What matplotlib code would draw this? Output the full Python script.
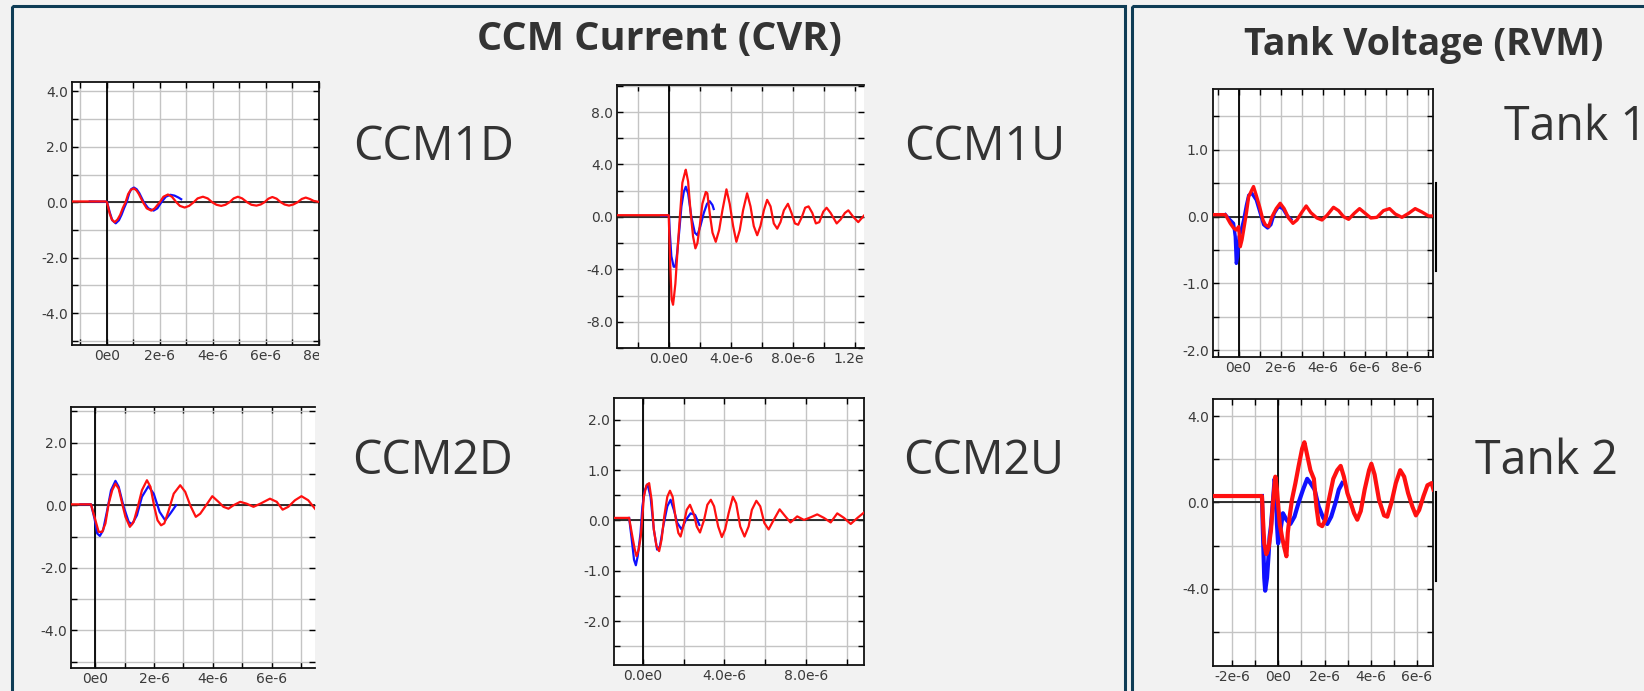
import numpy as np
import matplotlib
matplotlib.use("Agg")
import matplotlib.pyplot as plt
from matplotlib.patches import Rectangle
from matplotlib.transforms import Bbox, TransformedBbox

W, H = 1644, 691

# waveforms: (time in us, amplitude)
ccm1d_red = [(-1.32, 0.03), (-0.05, 0.03), (0.0, 0.0), (0.1, -0.4), (0.18, -0.62), (0.29, -0.72),
             (0.4, -0.62), (0.5, -0.45), (0.6, -0.2), (0.70, 0.0), (0.8, 0.3), (0.9, 0.45), (1.02, 0.50),
             (1.12, 0.42), (1.2, 0.3), (1.36, 0.0), (1.5, -0.22), (1.67, -0.30), (1.8, -0.22), (1.99, 0.0),
             (2.13, 0.2), (2.30, 0.28), (2.45, 0.2), (2.62, 0.0), (2.75, -0.13), (2.93, -0.19), (3.1, -0.13),
             (3.27, 0.0), (3.42, 0.14), (3.62, 0.20), (3.8, 0.14), (3.97, 0.0), (4.13, -0.09), (4.31, -0.13),
             (4.47, -0.09), (4.62, 0.0), (4.78, 0.14), (4.94, 0.20), (5.1, 0.14), (5.29, 0.0), (5.45, -0.09),
             (5.64, -0.12), (5.8, -0.08), (5.94, 0.0), (6.09, 0.13), (6.24, 0.19), (6.4, 0.13), (6.56, 0.0),
             (6.7, -0.08), (6.87, -0.12), (7.03, -0.08), (7.19, 0.0), (7.35, 0.12), (7.5, 0.17), (7.65, 0.12),
             (7.8, 0.05), (7.96, 0.02)]
ccm1d_blue = [(-0.65, 0.03), (0.0, 0.02), (0.1, -0.35), (0.2, -0.65), (0.33, -0.76), (0.45, -0.65),
              (0.55, -0.45), (0.65, -0.2), (0.74, 0.0), (0.84, 0.33), (0.92, 0.48), (1.02, 0.53), (1.12, 0.47),
              (1.22, 0.33), (1.39, 0.0), (1.56, -0.22), (1.76, -0.30), (1.9, -0.22), (2.05, 0.0), (2.22, 0.2),
              (2.39, 0.27), (2.55, 0.24), (2.7, 0.17), (2.8, 0.11)]

ccm1u_red = [(-3.35, 0.13), (-0.02, 0.13), (0.09, -4.0), (0.17, -6.3), (0.26, -6.7), (0.32, -6.1),
             (0.41, -5.1), (0.47, -4.0), (0.58, -2.0), (0.73, 0.5), (0.86, 2.6), (1.01, 3.3), (1.08, 3.6),
             (1.23, 2.7), (1.38, 0.5), (1.55, -1.5), (1.70, -2.4), (1.83, -2.0), (1.98, -0.7), (2.15, 1.0),
             (2.37, 1.9), (2.47, 1.8), (2.62, 0.3), (2.80, -1.2), (3.01, -1.9), (3.23, -1.0), (3.44, 0.5),
             (3.70, 2.1), (3.91, 1.0), (4.13, -0.7), (4.34, -1.9), (4.56, -1.0), (4.77, 0.5), (5.03, 1.8),
             (5.25, 0.8), (5.46, -0.7), (5.68, -1.4), (5.89, -0.7), (6.11, 0.5), (6.32, 1.3), (6.54, 0.8),
             (6.75, -0.5), (6.97, -0.9), (7.18, -0.4), (7.40, 0.5), (7.66, 1.0), (7.89, 0.3), (8.11, -0.5),
             (8.32, -0.6), (8.56, 0.0), (8.77, 0.7), (8.99, 0.8), (9.23, 0.3), (9.46, -0.5), (9.68, -0.4),
             (9.94, 0.4), (10.15, 0.7), (10.41, 0.3), (10.8, -0.5), (11.05, -0.2), (11.33, 0.3), (11.55, 0.5),
             (11.87, 0.0), (12.19, -0.4), (12.41, -0.1), (12.56, 0.1)]
ccm1u_blue = [(-0.5, 0.1), (0.0, 0.1), (0.04, -1.0), (0.15, -3.0), (0.30, -3.8), (0.41, -3.8), (0.52, -2.8),
              (0.65, -1.2), (0.80, 0.8), (0.95, 1.9), (1.08, 2.3), (1.23, 1.8), (1.44, 0.0), (1.66, -1.2),
              (1.83, -1.4), (2.02, -0.7), (2.24, 0.3), (2.45, 1.0), (2.62, 1.2), (2.80, 0.9), (2.88, 0.6)]

ccm2d_red = [(-0.82, 0.03), (-0.14, 0.03), (0.01, -0.48), (0.12, -0.85), (0.24, -0.85), (0.35, -0.58),
             (0.46, 0.05), (0.58, 0.48), (0.69, 0.69), (0.80, 0.53), (0.92, 0.05), (1.03, -0.37), (1.18, -0.69),
             (1.31, -0.53), (1.45, -0.05), (1.59, 0.48), (1.76, 0.8), (1.88, 0.59), (2.01, -0.05), (2.12, -0.48),
             (2.24, -0.64), (2.35, -0.58), (2.50, -0.16), (2.67, 0.37), (2.89, 0.64), (3.06, 0.43), (3.23, 0.0),
             (3.42, -0.37), (3.57, -0.27), (3.77, 0.0), (3.98, 0.29), (4.19, 0.11), (4.36, -0.05), (4.53, -0.11),
             (4.7, 0.0), (4.93, 0.11), (5.15, 0.05), (5.38, -0.05), (5.61, 0.05), (5.94, 0.21), (6.17, 0.11),
             (6.37, -0.14), (6.56, -0.05), (6.79, 0.16), (7.01, 0.29), (7.24, 0.16), (7.47, -0.11)]
ccm2d_blue = [(-0.5, 0.03), (-0.14, 0.03), (-0.02, -0.43), (0.07, -0.9), (0.16, -0.98), (0.27, -0.8),
              (0.41, -0.16), (0.54, 0.48), (0.69, 0.78), (0.80, 0.59), (0.97, -0.05), (1.14, -0.53),
              (1.25, -0.61), (1.42, -0.32), (1.59, 0.27), (1.81, 0.61), (1.99, 0.37), (2.19, -0.21),
              (2.38, -0.48), (2.55, -0.27), (2.75, 0.0)]

ccm2u_red = [(-1.41, 0.05), (-0.67, 0.05), (-0.51, -0.32), (-0.39, -0.58), (-0.31, -0.71), (-0.2, -0.58),
             (-0.1, -0.32), (-0.02, 0.08), (0.05, 0.47), (0.18, 0.70), (0.31, 0.74), (0.43, 0.41), (0.54, -0.18),
             (0.67, -0.51), (0.80, -0.61), (0.92, -0.38), (1.05, 0.08), (1.20, 0.47), (1.33, 0.59), (1.46, 0.47),
             (1.62, 0.01), (1.74, -0.25), (1.85, -0.32), (1.98, -0.12), (2.15, 0.21), (2.31, 0.31), (2.51, 0.11),
             (2.64, -0.12), (2.80, -0.24), (3.0, 0.01), (3.16, 0.31), (3.33, 0.41), (3.49, 0.28), (3.69, -0.12),
             (3.87, -0.33), (4.03, -0.18), (4.20, 0.14), (4.41, 0.47), (4.57, 0.34), (4.77, -0.12), (4.98, -0.32),
             (5.18, -0.12), (5.34, 0.21), (5.56, 0.39), (5.75, 0.28), (5.95, -0.05), (6.16, -0.18), (6.41, 0.01),
             (6.70, 0.22), (6.98, 0.08), (7.23, -0.04), (7.56, 0.08), (7.89, 0.01), (8.21, 0.06), (8.54, 0.12),
             (8.87, 0.05), (9.2, -0.04), (9.52, 0.14), (9.85, 0.05), (10.18, -0.07), (10.51, 0.05), (10.84, 0.16)]
ccm2u_blue = [(-0.67, 0.05), (-0.54, -0.38), (-0.43, -0.78), (-0.34, -0.89), (-0.25, -0.71), (-0.11, -0.25),
              (-0.02, 0.28), (0.10, 0.6), (0.23, 0.72), (0.38, 0.47), (0.54, -0.18), (0.70, -0.58), (0.84, -0.51),
              (1.0, -0.12), (1.20, 0.28), (1.36, 0.41), (1.52, 0.21), (1.69, -0.05), (1.90, -0.18), (2.11, 0.01),
              (2.34, 0.14), (2.56, 0.11), (2.77, -0.09)]

tank1_red = [(-1.22, 0.03), (-0.63, 0.03), (-0.4, -0.1), (-0.24, -0.17), (-0.11, -0.2), (0.0, -0.15),
             (0.08, -0.45), (0.16, -0.35), (0.24, -0.2), (0.37, 0.05), (0.48, 0.3), (0.63, 0.4), (0.71, 0.45),
             (0.84, 0.32), (1.0, 0.15), (1.16, -0.05), (1.27, -0.12), (1.43, -0.15), (1.59, 0.0), (1.79, 0.12),
             (1.98, 0.2), (2.17, 0.12), (2.38, -0.02), (2.59, -0.1), (2.78, -0.05), (3.02, 0.07), (3.22, 0.16),
             (3.44, 0.06), (3.73, -0.02), (3.97, -0.05), (4.21, 0.02), (4.52, 0.14), (4.76, 0.09), (5.0, 0.0),
             (5.24, -0.04), (5.51, 0.05), (5.76, 0.12), (6.03, 0.05), (6.30, -0.02), (6.59, -0.01), (6.9, 0.09),
             (7.19, 0.12), (7.46, 0.04), (7.78, -0.01), (8.10, 0.05), (8.41, 0.12), (8.73, 0.07), (9.05, 0.01),
             (9.21, 0.01)]
tank1_blue = [(-0.63, 0.03), (-0.4, -0.05), (-0.24, -0.1), (-0.16, -0.3), (-0.11, -0.7), (-0.05, -0.6),
              (0.02, -0.3), (0.11, -0.22), (0.24, -0.05), (0.37, 0.17), (0.48, 0.32), (0.63, 0.35), (0.84, 0.25),
              (1.03, 0.05), (1.19, -0.12), (1.38, -0.17), (1.54, -0.12), (1.70, 0.05), (1.90, 0.15), (2.11, 0.12),
              (2.30, 0.02), (2.49, -0.04)]

tank2_red = [(-2.83, 0.3), (-0.71, 0.3), (-0.67, -0.66), (-0.61, -1.9), (-0.52, -2.4), (-0.42, -2.1),
             (-0.32, -1.3), (-0.23, 0.0), (-0.13, 1.2), (-0.06, 0.6), (0.06, -1.0), (0.16, -1.6), (0.26, -2.1),
             (0.35, -2.5), (0.41, -1.4), (0.49, -0.66), (0.59, 0.13), (0.74, 0.9), (0.88, 1.7), (1.03, 2.5),
             (1.13, 2.8), (1.25, 2.2), (1.39, 1.5), (1.54, 1.1), (1.65, -0.2), (1.75, -1.0), (1.90, -1.1),
             (2.04, -0.8), (2.19, 0.13), (2.38, 1.1), (2.55, 1.5), (2.70, 1.7), (2.84, 1.2), (2.99, 0.44),
             (3.13, 0.0), (3.28, -0.5), (3.42, -0.8), (3.57, -0.4), (3.74, 0.6), (3.93, 1.5), (4.03, 1.8),
             (4.17, 1.3), (4.36, 0.13), (4.58, -0.6), (4.72, -0.66), (4.90, 0.0), (5.09, 0.9), (5.28, 1.5),
             (5.45, 1.2), (5.62, 0.44), (5.81, -0.2), (5.96, -0.6), (6.10, -0.35), (6.29, 0.3), (6.46, 0.8),
             (6.64, 0.9), (6.72, 0.6)]
tank2_blue = [(-0.71, 0.3), (-0.67, -1.3), (-0.61, -3.5), (-0.57, -4.1), (-0.49, -3.5), (-0.42, -2.4),
              (-0.38, -1.6), (-0.32, -1.1), (-0.23, 0.13), (-0.16, 1.1), (-0.10, 0.6), (-0.06, -1.0),
              (-0.01, -1.9), (0.09, -1.3), (0.20, -0.5), (0.35, -0.8), (0.52, -1.0), (0.70, -0.66), (0.88, 0.0),
              (1.07, 0.6), (1.25, 1.1), (1.39, 0.9), (1.57, 0.6), (1.75, -0.2), (1.94, -0.7), (2.12, -1.0),
              (2.29, -0.66), (2.48, 0.0), (2.62, 0.6), (2.77, 0.9)]

labels_big = ["CCM1D", "CCM1U", "CCM2D", "CCM2U", "Tank 1", "Tank 2"]
panel_titles = ["CCM Current (CVR)", "Tank Voltage (RVM)"]


def px_axes(fig, left, top, right, bottom):
    return fig.add_axes([left / W, 1 - bottom / H, (right - left) / W, (bottom - top) / H])


def setup(ax, xlim, ylim, xgrid, xlab, ygrid, ylab, right_spine=True):
    ax.set_facecolor("white")
    ax.set_xlim(xlim[0] * 1e-6, xlim[1] * 1e-6)
    ax.set_ylim(*ylim)
    ax.set_xticks([g * 1e-6 for g in xgrid])
    ax.set_xticklabels([xlab.get(g, "") for g in xgrid])
    ax.set_yticks(ygrid)
    ax.set_yticklabels([ylab.get(g, "") for g in ygrid])
    ax.grid(True, color="#c4c4c4", lw=1)
    ax.set_axisbelow(True)
    ax.tick_params(direction="in", length=4, width=1, top=True, right=True,
                   labelsize=10, labelcolor="#3a3a3a", pad=3)
    ax.axhline(0, color="#202020", lw=1.3, zorder=1.5)
    ax.axvline(0, color="#000000", lw=1.3, zorder=1.5)
    for s in ax.spines.values():
        s.set_linewidth(1.3)
        s.set_color("#111111")
    if not right_spine:
        ax.spines["right"].set_visible(False)
    clip = TransformedBbox(Bbox([[-1, -1], [1, 2]]), ax.transAxes)
    for lbl in ax.get_xticklabels():
        lbl.set_clip_box(clip)
        lbl.set_clip_on(True)


def draw(ax, blue, red, lw=1.6):
    bt, bv = zip(*blue)
    rt, rv = zip(*red)
    ax.plot(np.array(bt) * 1e-6, bv, color="#1010ff", lw=lw, zorder=3)
    ax.plot(np.array(rt) * 1e-6, rv, color="#ff1010", lw=lw, zorder=4)


fig = plt.figure(figsize=(W / 100, H / 100), dpi=100)
fig.patch.set_facecolor("#f2f2f2")

bg = fig.add_axes([0, 0, 1, 1])
bg.set_xlim(0, W)
bg.set_ylim(H, 0)
bg.axis("off")
border = "#0f3d56"
bg.add_patch(Rectangle((12, 6), 1113, 700, fill=False, ec=border, lw=2.2))
bg.add_patch(Rectangle((1132, 6), 600, 700, fill=False, ec=border, lw=2.2))
bg.text(659, 50, panel_titles[0], ha="center", va="baseline", fontsize=28.5,
        fontweight="bold", color="#333333", family="Open Sans")
bg.text(1424, 55, panel_titles[1], ha="center", va="baseline", fontsize=27,
        fontweight="bold", color="#333333", family="Open Sans")
for txt, (x, y) in zip(labels_big, [(353, 160), (904, 160), (352, 474), (903, 474),
                                    (1504, 140), (1475, 474)]):
    bg.text(x, y, txt, ha="left", va="baseline", fontsize=33.5, color="#333333", family="Open Sans")
bg.plot([1436, 1436], [183, 271], color="black", lw=1.5)
bg.plot([1436, 1436], [492, 581], color="black", lw=1.5)

# CCM1D
ax = px_axes(fig, 72, 82, 319, 345)
setup(ax, (-1.32, 8.0), (-5.15, 4.34), list(range(-1, 9)),
      {0: "0e0", 2: "2e-6", 4: "4e-6", 6: "6e-6", 8: "8e-6"},
      [-5, -4, -3, -2, -1, 0, 1, 2, 3, 4], {4: "4.0", 2: "2.0", 0: "0.0", -2: "-2.0", -4: "-4.0"})
draw(ax, ccm1d_blue, ccm1d_red)

# CCM1U
ax = px_axes(fig, 617, 85, 864, 348)
setup(ax, (-3.35, 12.56), (-10.0, 10.06), list(range(-2, 13, 2)),
      {0: "0.0e0", 4: "4.0e-6", 8: "8.0e-6", 12: "1.2e-5"},
      list(range(-10, 11, 2)), {8: "8.0", 4: "4.0", 0: "0.0", -4: "-4.0", -8: "-8.0"}, right_spine=False)
draw(ax, ccm1u_blue, ccm1u_red)

# CCM2D
ax = px_axes(fig, 71, 407, 315, 668)
setup(ax, (-0.82, 7.47), (-5.2, 3.14), list(range(0, 8)),
      {0: "0e0", 2: "2e-6", 4: "4e-6", 6: "6e-6"},
      list(range(-5, 4)), {2: "2.0", 0: "0.0", -2: "-2.0", -4: "-4.0"}, right_spine=False)
draw(ax, ccm2d_blue, ccm2d_red)

# CCM2U
ax = px_axes(fig, 614, 398, 864, 665)
setup(ax, (-1.41, 10.83), (-2.87, 2.43), list(range(0, 11, 2)),
      {0: "0.0e0", 4: "4.0e-6", 8: "8.0e-6"},
      [-2.5, -2.0, -1.5, -1.0, -0.5, 0.0, 0.5, 1.0, 1.5, 2.0],
      {2.0: "2.0", 1.0: "1.0", 0.0: "0.0", -1.0: "-1.0", -2.0: "-2.0"})
draw(ax, ccm2u_blue, ccm2u_red)

# Tank 1
ax = px_axes(fig, 1213, 89, 1433, 357)
setup(ax, (-1.22, 9.26), (-2.10, 1.91), list(range(-1, 10)),
      {0: "0e0", 2: "2e-6", 4: "4e-6", 6: "6e-6", 8: "8e-6"},
      [-2.0, -1.5, -1.0, -0.5, 0.0, 0.5, 1.0, 1.5],
      {1.0: "1.0", 0.0: "0.0", -1.0: "-1.0", -2.0: "-2.0"})
draw(ax, tank1_blue, tank1_red, lw=2.4)

# Tank 2
ax = px_axes(fig, 1213, 399, 1433, 666)
setup(ax, (-2.83, 6.70), (-7.6, 4.81), list(range(-2, 7)),
      {-2: "-2e-6", 0: "0e0", 2: "2e-6", 4: "4e-6", 6: "6e-6"},
      [-6, -4, -2, 0, 2, 4], {4: "4.0", 0: "0.0", -4: "-4.0"})
draw(ax, tank2_blue, tank2_red, lw=3.0)

fig.savefig("out.png", dpi=100, facecolor=fig.get_facecolor())
